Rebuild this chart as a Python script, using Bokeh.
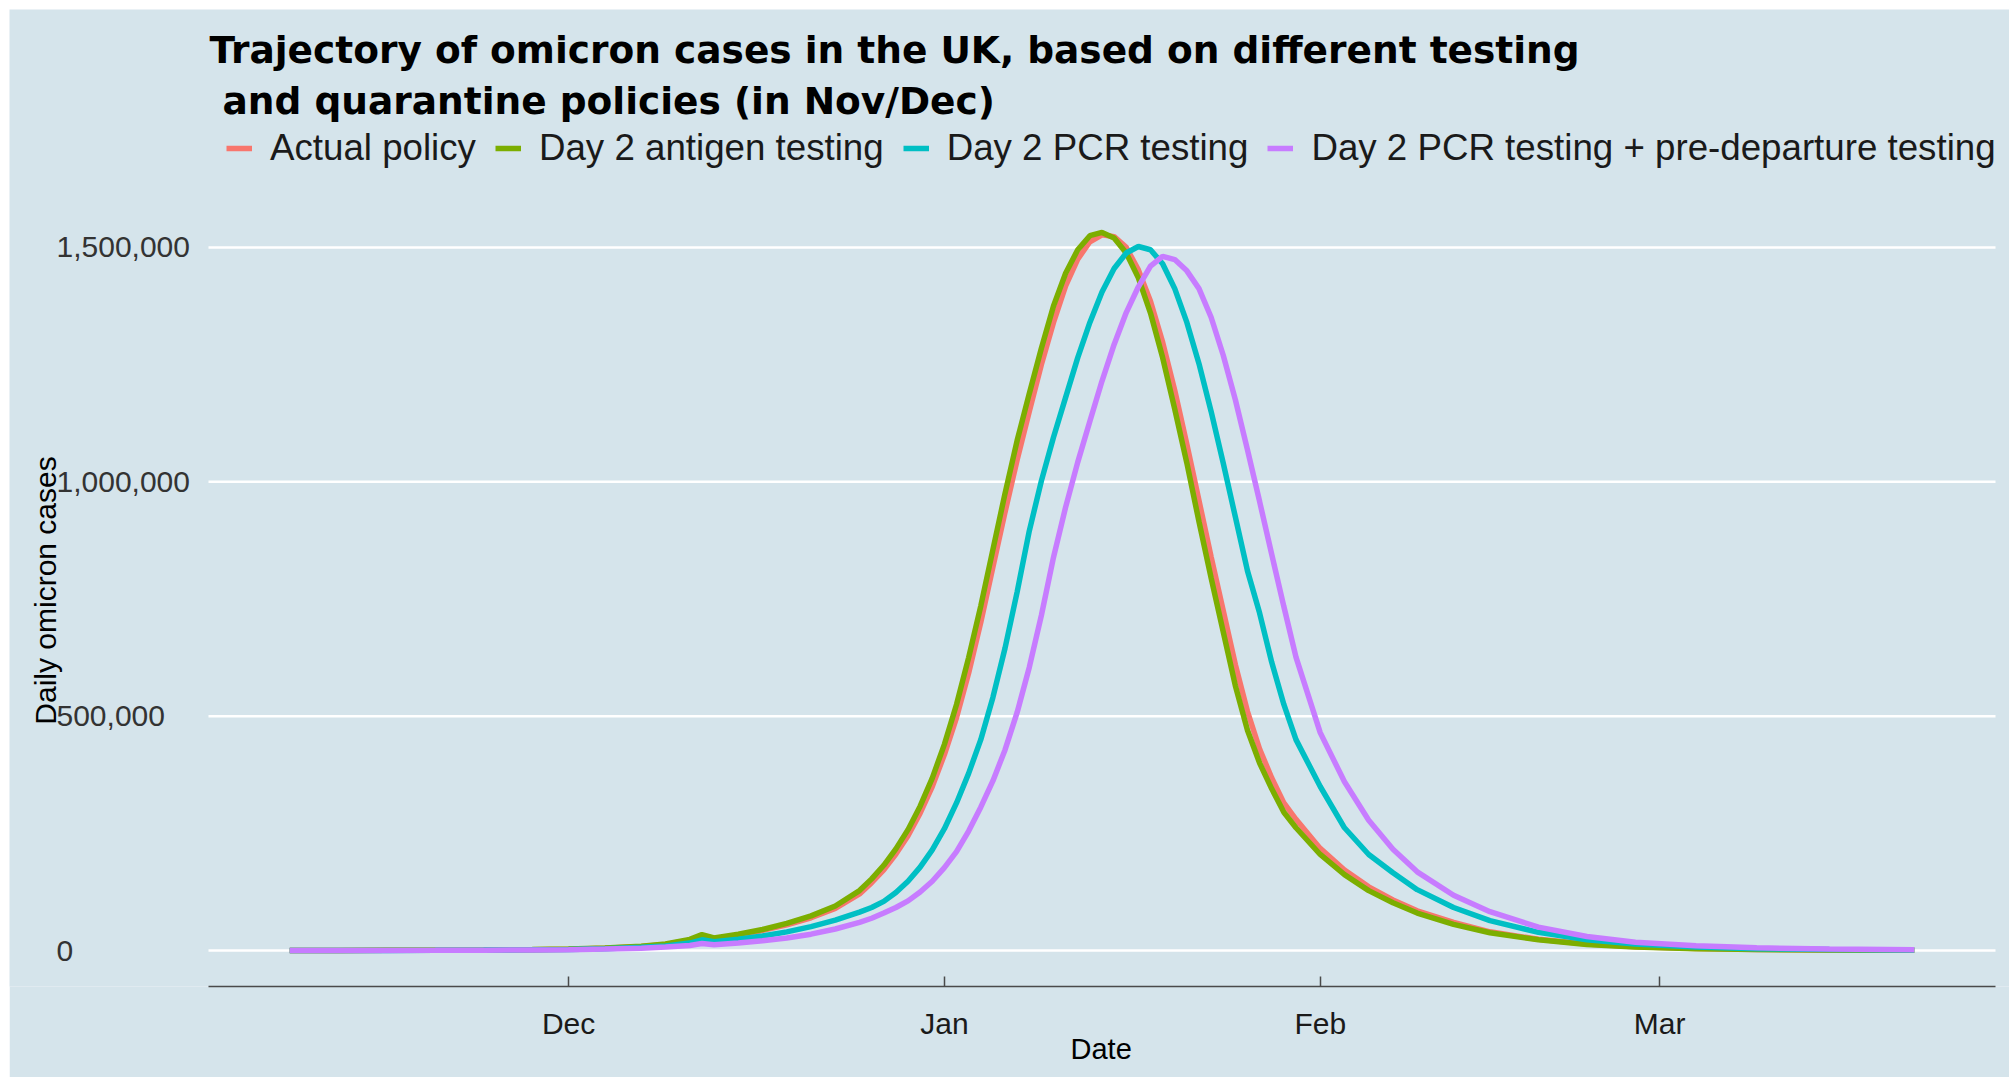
import pandas as pd
from bokeh.plotting import figure
from bokeh.models import (FixedTicker, DatetimeTickFormatter, Label, Legend,
                          LegendItem, Range1d, Title)
from bokeh.embed import file_html
from bokeh.resources import INLINE

# ---------------- data (daily omicron cases, thousands) ----------------
dates = [
    "2021-11-08", "2021-11-12", "2021-11-16", "2021-11-20", "2021-11-24", "2021-11-28",
    "2021-12-01", "2021-12-04", "2021-12-07", "2021-12-09", "2021-12-11", "2021-12-12",
    "2021-12-13", "2021-12-15", "2021-12-17", "2021-12-19", "2021-12-21", "2021-12-23",
    "2021-12-25", "2021-12-26", "2021-12-27", "2021-12-28", "2021-12-29", "2021-12-30",
    "2021-12-31",
    "2022-01-01", "2022-01-02", "2022-01-03", "2022-01-04", "2022-01-05", "2022-01-06",
    "2022-01-07", "2022-01-08", "2022-01-09", "2022-01-10",
    "2022-01-11", "2022-01-12", "2022-01-13", "2022-01-14", "2022-01-15", "2022-01-16",
    "2022-01-17", "2022-01-18", "2022-01-19", "2022-01-20",
    "2022-01-21", "2022-01-22", "2022-01-23", "2022-01-24", "2022-01-25", "2022-01-26",
    "2022-01-27", "2022-01-28", "2022-01-29", "2022-01-30",
    "2022-02-01", "2022-02-03", "2022-02-05", "2022-02-07", "2022-02-09", "2022-02-12",
    "2022-02-15", "2022-02-19", "2022-02-23", "2022-02-27",
    "2022-03-04", "2022-03-09", "2022-03-15", "2022-03-22",
]

actual_policy = [
    0.2, 0.3, 0.5, 0.8, 1.2, 2.0,
    3.0, 5.2, 9, 13, 22, 31,
    25, 33, 43, 55, 70, 90,
    121, 145, 172, 206, 245, 293, 350,
    418, 497, 592, 700, 818, 935, 1047, 1150, 1250, 1340,
    1418, 1475, 1512, 1527, 1523, 1500, 1452, 1385, 1298, 1195,
    1080, 960, 840, 725, 610, 510, 430, 368, 315, 280,
    218, 172, 136, 108, 85, 60, 40, 24, 14, 8,
    4.3, 2.4, 1.4, 0.8,
]

day2_antigen = [
    0.2, 0.3, 0.5, 0.8, 1.3, 2.1,
    3.2, 5.5, 9.5, 14, 24, 34,
    27, 35, 45, 58, 74, 95,
    128, 153, 182, 217, 258, 308, 368,
    440, 525, 625, 735, 855, 975, 1088, 1188, 1285, 1375,
    1445, 1495, 1525, 1532, 1520, 1488, 1435, 1360, 1265, 1155,
    1040, 915, 795, 680, 565, 470, 400, 345, 295, 262,
    205, 162, 128, 102, 80, 56, 38, 23, 13, 7.5,
    4, 2.2, 1.3, 0.7,
]

day2_pcr = [
    0.2, 0.3, 0.4, 0.6, 1.0, 1.6,
    2.4, 4, 7, 10, 16, 23,
    19, 24, 31, 40, 51, 65,
    82, 92, 105, 124, 148, 178, 215,
    260, 315, 378, 450, 540, 645, 765, 895, 1002, 1095,
    1180, 1265, 1340, 1405, 1455, 1488, 1502, 1495, 1465, 1412,
    1340, 1252, 1150, 1040, 925, 810, 720, 615, 525, 450,
    350, 262, 205, 166, 130, 92, 64, 39, 23, 14,
    7.5, 4, 2.2, 1.2,
]

day2_pcr_predeparture = [
    0.1, 0.2, 0.3, 0.5, 0.8, 1.3,
    2.0, 3.2, 5, 7.5, 11, 15,
    12.5, 16, 21, 27, 35, 46,
    60, 69, 80, 92, 106, 125, 148,
    177, 211, 255, 306, 362, 428, 508, 604, 715, 839,
    946, 1042, 1129, 1215, 1293, 1361, 1416, 1460, 1481, 1474,
    1450, 1412, 1351, 1270, 1175, 1068, 958, 845, 734, 626,
    465, 360, 278, 216, 168, 118, 83, 50, 30, 18,
    10.5, 6, 3.2, 1.7,
]

series_names = ["Actual policy", "Day 2 antigen testing", "Day 2 PCR testing",
                "Day 2 PCR testing + pre-departure testing"]
series_values = [actual_policy, day2_antigen, day2_pcr, day2_pcr_predeparture]
series_colors = ["#F8766D", "#7CAE00", "#00BFC4", "#C77CFF"]

x_tick_dates = ["2021-12-01", "2022-01-01", "2022-02-01", "2022-03-01"]
x_tick_labels = ["Dec", "Jan", "Feb", "Mar"]
y_tick_values = [0, 500000, 1000000, 1500000]
y_tick_labels = ["0", "500,000", "1,000,000", "1,500,000"]

title_lines = ["Trajectory of omicron cases in the UK, based on different testing",
               "and quarantine policies (in Nov/Dec)"]
x_title = "Date"
y_title = "Daily omicron cases"

# ---------------- geometry (pixels inside the figure) ----------------
W, H = 2000, 1068          # figure size (placed 9px from page top/left)
PANEL_L, PANEL_R = 199, 1986   # plotting panel (ggplot panel) horizontal extent
PANEL_T, PANEL_B = 187, 977    # plotting panel vertical extent (frame bottom = PANEL_B)
BG = "#d5e4eb"

x_ms = (pd.to_datetime(dates).asi8 // 10**6).astype(float)
span = x_ms.max() - x_ms.min()
panel_x0 = x_ms.min() - 0.05 * span
panel_x1 = x_ms.max() + 0.05 * span
ppx = (PANEL_R - PANEL_L) / (panel_x1 - panel_x0)
ymax = max(max(v) for v in series_values) * 1000
panel_y0, panel_y1 = -0.05 * ymax, 1.05 * ymax
ppy = (PANEL_B - PANEL_T) / (panel_y1 - panel_y0)

p = figure(width=W, height=H, output_backend="svg", toolbar_location=None,
           x_axis_type="datetime", y_axis_location=None, title=None,
           x_range=Range1d(panel_x0 - PANEL_L / ppx, panel_x1 + (W - PANEL_R) / ppx),
           y_range=Range1d(panel_y0, panel_y1 + PANEL_T / ppy),
           min_border_left=0, min_border_right=0, min_border_top=0,
           min_border_bottom=H - PANEL_B, margin=(9, 0, 0, 9))
p.background_fill_color = BG
p.border_fill_color = BG
p.outline_line_color = None
p.xgrid.visible = False
p.ygrid.visible = False

# horizontal gridlines across the panel only
p.segment(x0=[panel_x0] * len(y_tick_values), x1=[panel_x1] * len(y_tick_values),
          y0=y_tick_values, y1=y_tick_values, line_color="white", line_width=2.5,
          level="underlay")

renderers = []
for name, vals, col in zip(series_names, series_values, series_colors):
    r = p.line(x_ms, [v * 1000 for v in vals], line_color=col, line_width=5.5)
    renderers.append(r)

# y tick labels (left aligned, economist style) and y title
for v, t in zip(y_tick_values, y_tick_labels):
    p.add_layout(Label(x=47, y=v, x_units="screen", y_units="data", text=t,
                       text_align="left", text_baseline="middle",
                       text_font="Liberation Sans", text_font_size="30px",
                       text_color="#333333"))
p.add_layout(Label(x=36, y=396, x_units="screen", y_units="screen", text=y_title,
                   angle=90, angle_units="deg", text_align="center",
                   text_baseline="middle", text_font="Liberation Sans",
                   text_font_size="30px", text_color="#000000"))

# x axis
tick_ms = [pd.Timestamp(d).value // 10**6 for d in x_tick_dates]
xa = p.xaxis[0]
xa.bounds = (panel_x0, panel_x1)
xa.ticker = FixedTicker(ticks=tick_ms)
xa.formatter = DatetimeTickFormatter(days="%b", months="%b", years="%b")
xa.major_label_overrides = {float(ms): lab for ms, lab in zip(tick_ms, x_tick_labels)}
xa.minor_tick_line_color = None
xa.major_tick_in = 10
xa.major_tick_out = 0
xa.major_tick_line_color = "#4a4a4a"
xa.major_tick_line_width = 1.5
xa.axis_line_color = "#4a4a4a"
xa.axis_line_width = 1.5
xa.major_label_text_font = "Liberation Sans"
xa.major_label_text_font_size = "30px"
xa.major_label_text_color = "#1a1a1a"
xa.major_label_standoff = 20

# x axis title, centred under the panel
p.add_layout(Title(text=x_title, align="left", offset=1061, vertical_align="middle",
                   standoff=-22, text_font="Liberation Sans", text_font_size="29px",
                   text_font_style="normal", text_color="#000000"), "below")

# title (two lines)
p.add_layout(Label(x=200, y=PANEL_B - 40.8, x_units="screen", y_units="screen",
                   text=title_lines[0], text_align="left", text_baseline="alphabetic",
                   text_font="DejaVu Sans", text_font_style="bold",
                   text_font_size="37.5px", text_color="#000000"))
p.add_layout(Label(x=213, y=PANEL_B - 91, x_units="screen", y_units="screen",
                   text=title_lines[1], text_align="left", text_baseline="alphabetic",
                   text_font="DejaVu Sans", text_font_style="bold",
                   text_font_size="37.5px", text_color="#000000"))

# legend (horizontal, above the panel)
legend = Legend(items=[LegendItem(label=n, renderers=[r]) for n, r in zip(series_names, renderers)],
                orientation="horizontal", location=(217, PANEL_B - 139.5 - 20),
                glyph_width=26, glyph_height=40, label_height=40,
                label_standoff=18, spacing=19,
                padding=0, margin=0, border_line_color=None, background_fill_alpha=0,
                label_text_font="Liberation Sans", label_text_font_size="36.7px",
                label_text_color="#1a1a1a")
p.add_layout(legend)

open("out.html", "w").write(file_html(p, INLINE))
